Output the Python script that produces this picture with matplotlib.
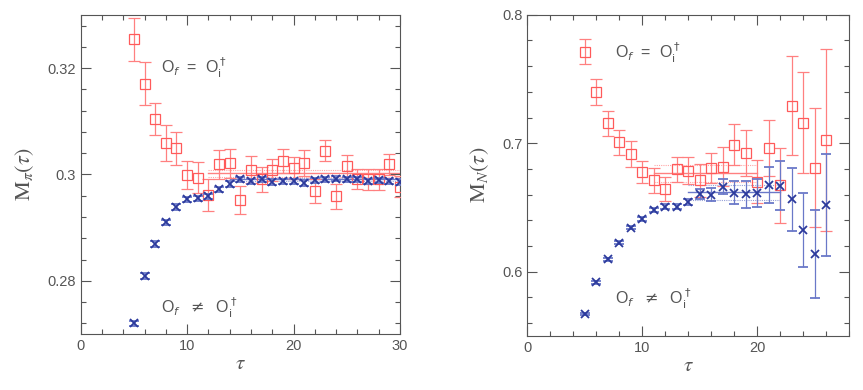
import matplotlib
matplotlib.use("Agg")
import matplotlib.pyplot as plt  # noqa: E402
from matplotlib.ticker import MultipleLocator  # noqa: E402

# ---- left panel: pion ----
tau_pi = list(range(5, 31))
pi_same = [0.3254, 0.3171, 0.3105, 0.3060, 0.3049, 0.2999, 0.2994, 0.2961,
           0.3019, 0.3021, 0.2952, 0.3009, 0.2991, 0.3009, 0.3025, 0.3012,
           0.3022, 0.2969, 0.3045, 0.2959, 0.3016, 0.2992, 0.2991, 0.2991,
           0.3019, 0.2977]
pi_same_err = [0.0040, 0.0041, 0.0030, 0.0034, 0.0031, 0.0026, 0.0029, 0.0030,
               0.0027, 0.0027, 0.0026, 0.0025, 0.0024, 0.0021, 0.0022, 0.0021,
               0.0024, 0.0023, 0.0020, 0.0024, 0.0020, 0.0019, 0.0020, 0.0020,
               0.0020, 0.0020]
pi_diff = [0.2720, 0.2809, 0.2869, 0.2910, 0.2939, 0.2953, 0.2955, 0.2959,
           0.2972, 0.2982, 0.2991, 0.2987, 0.2991, 0.2986, 0.2987, 0.2987,
           0.2984, 0.2989, 0.2991, 0.2992, 0.2991, 0.2991, 0.2987, 0.2989,
           0.2987, 0.2986]
pi_diff_err = [0.0005] * len(tau_pi)
# fit bands: (start, end, value, error)
pi_fit_same = (12, 30, 0.3002, 0.0006)
pi_fit_diff = (14, 30, 0.2991, 0.0003)

# ---- right panel: nucleon ----
tau_n = list(range(5, 27))
n_same = [0.7713, 0.7397, 0.7156, 0.7008, 0.6914, 0.6777, 0.6712, 0.6645,
          0.6798, 0.6787, 0.6712, 0.6808, 0.6818, 0.6990, 0.6925, 0.6702,
          0.6964, 0.6671, 0.7291, 0.7161, 0.6811, 0.7026]
n_same_err = [0.0100, 0.0103, 0.0096, 0.0097, 0.0100, 0.0088, 0.0097, 0.0095,
              0.0097, 0.0104, 0.0127, 0.0117, 0.0149, 0.0160, 0.0180, 0.0165,
              0.0220, 0.0290, 0.0385, 0.0390, 0.0460, 0.0710]
n_diff = [0.5672, 0.5918, 0.6097, 0.6227, 0.6341, 0.6409, 0.6481, 0.6507,
          0.6507, 0.6541, 0.6603, 0.6598, 0.6663, 0.6616, 0.6603, 0.6611,
          0.6676, 0.6668, 0.6564, 0.6326, 0.6139, 0.6520]
n_diff_err = [0.0010, 0.0010, 0.0010, 0.0012, 0.0012, 0.0014, 0.0016, 0.0020,
              0.0022, 0.0025, 0.0040, 0.0050, 0.0060, 0.0087, 0.0106, 0.0110,
              0.0140, 0.0190, 0.0246, 0.0290, 0.0340, 0.0395]
n_fit_same = (11, 20, 0.6765, 0.0065)
n_fit_diff = (14, 22, 0.6620, 0.0058)

RED = "#ff5a5a"
RED_LIGHT = "#ff8080"
BLUE = "#2c3a9c"
BLUE_LIGHT = "#6a78c8"
GREY = "#555555"

plt.rcParams["font.family"] = ["Liberation Sans", "DejaVu Sans"]

LABEL_EQ = r"O$_f$  =  O$_\mathrm{i}^\dagger$"
LABEL_NE = r"O$_f$  $\neq$  O$_\mathrm{i}^\dagger$"


def draw_fit(ax, fit, color):
    x0, x1, val, err = fit
    ax.plot([x0, x1], [val, val], color=color, lw=1.0, zorder=1)
    for v in (val - err, val + err):
        ax.plot([x0, x1], [v, v], color=color, lw=0.8, ls=(0, (1, 1)),
                alpha=0.7, zorder=1)


def draw_panel(ax, tau, same, same_err, diff, diff_err, fit_same, fit_diff):
    draw_fit(ax, fit_same, RED_LIGHT)
    draw_fit(ax, fit_diff, BLUE_LIGHT)
    ax.errorbar(tau, same, yerr=same_err, fmt="s", ms=7.5, mfc="none",
                mec=RED, mew=0.9, ecolor=RED_LIGHT, elinewidth=0.9,
                capsize=4, capthick=0.9, zorder=3)
    ax.errorbar(tau, diff, yerr=diff_err, fmt="x", ms=6, mec=BLUE, mew=1.3,
                ecolor=BLUE_LIGHT, elinewidth=0.9, capsize=3.5, capthick=0.9,
                zorder=4)
    ax.tick_params(which="both", direction="in", top=True, right=True,
                   colors=GREY, labelsize=10.5)
    ax.tick_params(which="major", length=7, width=0.8)
    ax.tick_params(which="minor", length=3.5, width=0.8)
    for sp in ax.spines.values():
        sp.set_color(GREY)
        sp.set_linewidth(0.8)
    ax.xaxis.set_major_locator(MultipleLocator(10))
    ax.xaxis.set_minor_locator(MultipleLocator(2))
    ax.set_xlabel(r"$\tau$", fontsize=15, color=GREY, math_fontfamily="stix",
                  labelpad=1)


fig = plt.figure(figsize=(8.63, 3.9), dpi=100)
ax1 = fig.add_axes([0.0935, 0.1436, 0.370, 0.818])
ax2 = fig.add_axes([0.611, 0.1385, 0.3731, 0.8238])

draw_panel(ax1, tau_pi, pi_same, pi_same_err, pi_diff, pi_diff_err,
           pi_fit_same, pi_fit_diff)
ax1.set_xlim(0, 30)
ax1.set_ylim(0.27, 0.33)
ax1.yaxis.set_minor_locator(MultipleLocator(0.004))
ax1.set_yticks([0.28, 0.30, 0.32], ["0.28", "0.3", "0.32"])
ax1.set_ylabel(r"$\mathrm{M}_{\pi}(\tau)$", fontsize=16, color=GREY,
               math_fontfamily="stix", labelpad=8)
ax1.text(7.5, 0.32, LABEL_EQ, fontsize=11.5, color=GREY, va="center")
ax1.text(7.5, 0.275, LABEL_NE, fontsize=11.5, color=GREY, va="center")

draw_panel(ax2, tau_n, n_same, n_same_err, n_diff, n_diff_err,
           n_fit_same, n_fit_diff)
ax2.set_xlim(0, 28)
ax2.set_ylim(0.55, 0.8)
ax2.yaxis.set_minor_locator(MultipleLocator(0.02))
ax2.set_yticks([0.6, 0.7, 0.8], ["0.6", "0.7", "0.8"])
ax2.set_ylabel(r"$\mathrm{M}_{N}(\tau)$", fontsize=16, color=GREY,
               math_fontfamily="stix", labelpad=8)
ax2.text(7.6, 0.770, LABEL_EQ, fontsize=11.5, color=GREY, va="center")
ax2.text(7.6, 0.579, LABEL_NE, fontsize=11.5, color=GREY, va="center")

fig.savefig("out.png", dpi=100)
plt.close(fig)
